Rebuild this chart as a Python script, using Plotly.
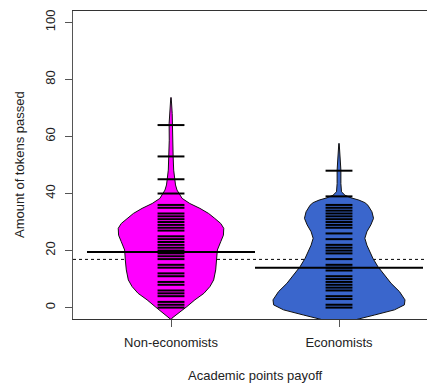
import plotly.graph_objects as go

# ---- data -------------------------------------------------------------
groups = ["Non-economists", "Economists"]
positions = [1, 2]
bean_fill = ["#ff00ff", "#3a66cc"]

# Density outlines of the beans: token level and relative density (max = 1)
dens_y_noneco = [73.7, 68.0, 64.5, 58.7, 52.9, 48.2, 44.7, 43.0, 41.2, 40.0, 38.3,
                 36.5, 34.8, 33.0, 31.3, 29.5, 27.8, 25.4, 23.1, 20.2, 16.7, 13.2,
                 9.7, 7.4, 5.0, 2.7, 0.35, -2.0, -3.7, -4.2]
dens_w_noneco = [0.003, 0.018, 0.028, 0.026, 0.032, 0.040, 0.058, 0.067, 0.090, 0.12, 0.165,
                 0.28, 0.43, 0.56, 0.65, 0.74, 0.785, 0.78, 0.74, 0.69, 0.68, 0.665,
                 0.635, 0.58, 0.49, 0.355, 0.237, 0.114, 0.015, 0.0]

dens_y_eco = [57.6, 55.2, 51.7, 48.2, 43.5, 40.6, 39.4, 38.5, 37.7, 36.8, 35.9,
              33.6, 31.3, 29.0, 26.6, 24.3, 21.9, 19.6, 17.3, 14.4, 11.4, 8.5,
              5.6, 2.7, 0.95, -0.8, -2.6, -3.7, -5.0]
dens_w_eco = [0.003, 0.010, 0.020, 0.028, 0.028, 0.037, 0.089, 0.178, 0.296, 0.385, 0.43,
              0.49, 0.514, 0.474, 0.415, 0.385, 0.415, 0.455, 0.504, 0.578, 0.677, 0.775,
              0.90, 0.982, 0.973, 0.825, 0.529, 0.356, 0.12]

# Individual observations (one bean line per distinct value)
obs_noneco = [0, 1, 2, 4, 5, 6, 8, 9, 11, 12, 14, 15, 17, 18, 19, 20, 21, 22, 23, 24,
              25, 27, 28, 29, 30, 31, 32, 33, 35, 36, 40, 45, 53, 64]
obs_eco = [0, 1, 3, 4, 6, 7, 8, 9, 10, 11, 13, 14, 15, 17, 19, 20, 21, 22, 24, 26,
           28, 29, 30, 31, 32, 33, 34, 35, 36, 39, 48]

group_means = [19.5, 14.0]
overall_mean = 16.9

y_ticks = [0, 20, 40, 60, 80, 100]

# ---- drawing parameters ----------------------------------------------
MAX_HALF = 0.4     # half of the maximal bean width
LINE_HALF = 0.08   # half length of a bean line
MEAN_HALF = 0.5    # half length of a group mean line
FONT = "Liberation Sans, Arial, sans-serif"

fig = go.Figure()

outlines = [(dens_y_noneco, dens_w_noneco), (dens_y_eco, dens_w_eco)]
observations = [obs_noneco, obs_eco]

for pos, (ys, ws), col in zip(positions, outlines, bean_fill):
    left = [pos - MAX_HALF * w for w in ws]
    right = [pos + MAX_HALF * w for w in ws]
    fig.add_trace(go.Scatter(
        x=left + right[::-1], y=ys + ys[::-1],
        mode="lines", fill="toself", fillcolor=col,
        line=dict(color="#111111", width=1),
        hoverinfo="skip", showlegend=False))

for pos, obs in zip(positions, observations):
    xs, ys = [], []
    for v in obs:
        xs += [pos - LINE_HALF, pos + LINE_HALF, None]
        ys += [v, v, None]
    fig.add_trace(go.Scatter(x=xs, y=ys, mode="lines",
                             line=dict(color="black", width=2),
                             hoverinfo="skip", showlegend=False))

for pos, m in zip(positions, group_means):
    fig.add_trace(go.Scatter(x=[pos - MEAN_HALF, pos + MEAN_HALF], y=[m, m],
                             mode="lines", line=dict(color="black", width=2),
                             hoverinfo="skip", showlegend=False))

# overall mean, drawn beneath the beans
fig.add_shape(type="line", xref="paper", x0=0, x1=1, yref="y",
              y0=overall_mean, y1=overall_mean, layer="below",
              line=dict(color="black", width=1, dash="dot"))

fig.update_layout(
    width=427, height=388,
    margin=dict(l=73, r=0, t=11, b=69),
    paper_bgcolor="white", plot_bgcolor="white",
    font=dict(family=FONT, size=13, color="#222222"),
    showlegend=False,
    xaxis=dict(range=[0.4167, 2.5238], tickmode="array", tickvals=positions,
               ticktext=groups, showgrid=False, zeroline=False,
               showline=True, linecolor="#333333", linewidth=1, mirror=True,
               ticks="outside", ticklen=7, tickcolor="#555555",
               ticklabelstandoff=4),
    yaxis=dict(range=[-4, 104], tickmode="array", tickvals=y_ticks,
               ticktext=[str(t) for t in y_ticks], tickangle=-90,
               showgrid=False, zeroline=False,
               showline=True, linecolor="#555555", linewidth=1,
               ticks="outside", ticklen=7, tickcolor="#555555",
               ticklabelstandoff=5),
    annotations=[
        dict(text="Academic points payoff", xref="x", x=1.5, yref="paper",
             y=-0.182, xanchor="center", yanchor="middle", showarrow=False,
             font=dict(family=FONT, size=13, color="#222222")),
        dict(text="Amount of tokens passed", xref="paper", x=-0.1525,
             yref="paper", y=0.5, xanchor="center", yanchor="middle",
             textangle=-90, showarrow=False,
             font=dict(family=FONT, size=13, color="#222222")),
    ],
)

fig.write_html("out.html")
